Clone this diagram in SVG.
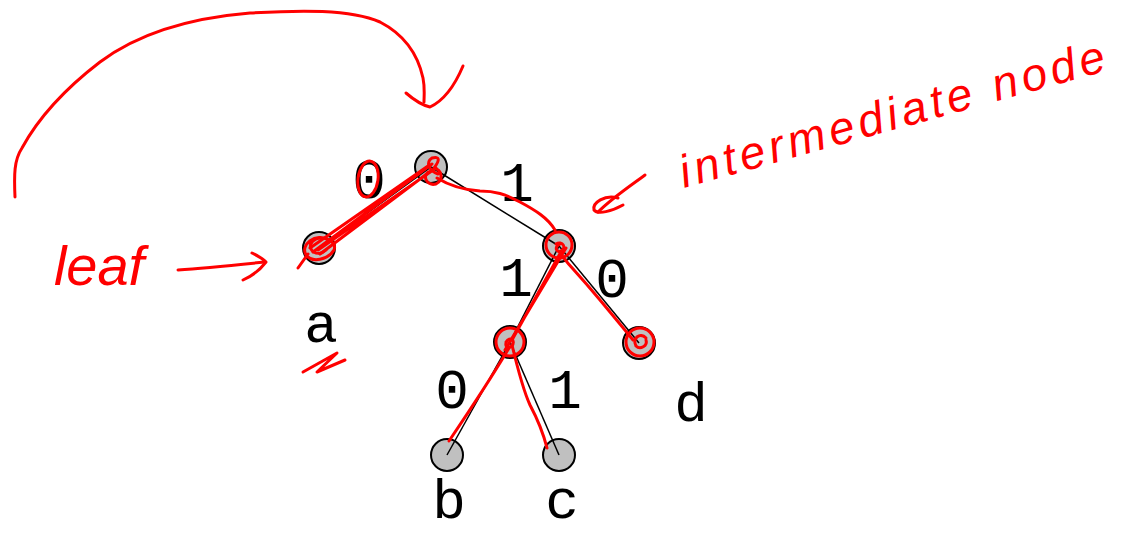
<svg xmlns="http://www.w3.org/2000/svg" width="1126" height="535" viewBox="0 0 1126 535">
<style>
.node{fill:#c0c0c0;stroke:#000;stroke-width:2}
.edge{stroke:#000;stroke-width:1.5;fill:none}
.lbl{font-family:"Liberation Mono","Courier New",monospace;font-size:56px;fill:#000;text-anchor:middle}
.ink{stroke:#ff0000;stroke-width:3;fill:none;stroke-linecap:round;stroke-linejoin:round}
.hand{font-family:"Liberation Sans",Arial,sans-serif;font-style:italic;fill:#ff0000}
</style>
<rect width="1126" height="535" fill="#fff"/>
<g id="node-root"><circle class="node" cx="431" cy="167" r="16"/></g>
<g id="node-a"><circle class="node" cx="319" cy="248" r="16"/><text class="lbl" x="321" y="342">a</text></g>
<g id="node-n1"><circle class="node" cx="559" cy="246" r="16"/></g>
<g id="node-n2"><circle class="node" cx="510" cy="342" r="16"/></g>
<g id="node-d"><circle class="node" cx="639" cy="343" r="16"/><text class="lbl" x="691" y="421">d</text></g>
<g id="node-b"><circle class="node" cx="447" cy="455" r="16"/><text class="lbl" x="449" y="518">b</text></g>
<g id="node-c"><circle class="node" cx="559" cy="455" r="16"/><text class="lbl" x="562" y="518">c</text></g>
<g id="connectors">
<line class="edge" x1="431" y1="167" x2="319" y2="248"/>
<line class="edge" x1="431" y1="167" x2="559" y2="246"/>
<line class="edge" x1="559" y1="246" x2="510" y2="342"/>
<line class="edge" x1="559" y1="246" x2="639" y2="343"/>
<line class="edge" x1="510" y1="342" x2="447" y2="455"/>
<line class="edge" x1="510" y1="342" x2="559" y2="455"/>
<text class="lbl" x="369" y="198">0</text>
<text class="lbl" x="517" y="201">1</text>
<text class="lbl" x="516" y="296">1</text>
<text class="lbl" x="612" y="297">0</text>
<text class="lbl" x="452" y="408">0</text>
<text class="lbl" x="565" y="408">1</text>
</g>
<g id="annotations">
<path class="ink" d="M15,197 C14,175 14,160 22,148 C40,115 70,85 100,62 C140,32 190,18 250,13 C300,10 350,9 380,22 C405,35 418,55 423,78 C425,88 424,96 424,102"/>
<path class="ink" d="M406,93 C414,100 422,105 430,107 C445,100 455,85 463,66"/>
<text class="hand" x="54" y="285" font-size="56" textLength="90">leaf</text>
<path class="ink" d="M178,270 C205,268 235,265 265,262"/>
<path class="ink" d="M252,253 C258,256 263,259 266,262 C260,270 252,276 243,280"/>
<ellipse class="ink" cx="368" cy="179" rx="10" ry="18" transform="rotate(8 368 179)"/>
<path class="ink" d="M313,252 L432,164 M318,250 L436,168 M310,248 L428,166 M320,254 L432,170"/>
<path class="ink" d="M330,240 C315,232 300,245 306,255 C312,263 328,260 334,250 C338,240 320,234 312,242 C306,250 318,258 326,250 M308,254 L298,268"/>
<path class="ink" d="M428,172 C422,178 428,186 436,184 C444,180 442,170 434,168 C440,160 440,156 432,158 C426,162 428,170 438,174"/>
<path class="ink" d="M437,178 C450,186 465,190 480,191 C495,191 505,194 520,202 C535,210 548,218 555,230"/>
<circle class="ink" cx="559" cy="245" r="13"/>
<path class="ink" d="M556,244 C562,240 568,248 560,252 C554,250 556,246 560,244"/>
<path class="ink" d="M562,250 L512,340 M566,248 L505,350 M560,252 C565,262 568,262 600,300 C615,318 625,330 633,340"/>
<circle class="ink" cx="510" cy="342" r="14"/>
<path class="ink" d="M506,342 C510,336 516,340 512,346 C506,350 504,344 508,340"/>
<circle class="ink" cx="640" cy="342" r="14"/>
<path class="ink" d="M646,338 C640,332 632,338 636,346 C640,350 648,346 646,340"/>
<path class="ink" d="M509,348 C490,380 470,410 449,441"/>
<path class="ink" d="M512,345 C518,370 524,392 530,405 C538,420 543,432 547,448"/>
<path class="ink" d="M303,372 L337,353 L317,372 L345,360"/>
<text class="hand" x="0" y="0" font-size="46" textLength="440" transform="translate(684,188) rotate(-15.5)">intermediate node</text>
<path class="ink" d="M645,175 C630,186 612,198 598,212"/>
<path class="ink" d="M618,198 C605,194 592,203 594,210 C598,215 612,211 623,205"/>
</g>
</svg>
